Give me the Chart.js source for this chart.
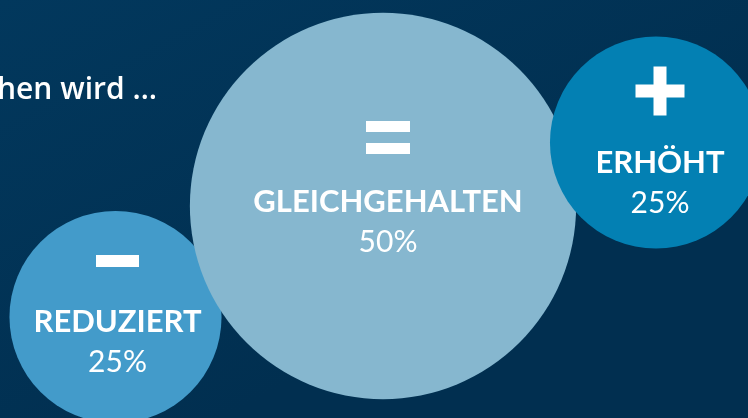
<!DOCTYPE html>
<html>
<head>
<meta charset="utf-8">
<script src="https://cdn.jsdelivr.net/npm/chart.js@4"></script>
<style>
  html, body { margin: 0; padding: 0; background: #01345a; }
  #wrap { width: 748px; height: 418px; position: relative; }
</style>
</head>
<body>
<div id="wrap"><canvas id="myChart"></canvas></div>
<script>
// data
const categories = ["REDUZIERT", "GLEICHGEHALTEN", "ERHÖHT"];
const shares = [25, 50, 25];
const signs = ["−", "=", "+"];
const titleText = "hen wird …";

// layout of the bubbles (axis units, 0..748 / 0..418)
const bubbleX = [115.5, 383, 656];
const bubbleY = [317, 206, 142.5];
const bubbleColors = ["#439bca", "#86b7cf", "#0380b3"];
// label offsets relative to the bubble centre
const labelDx = [2, 5, 4];
const nameDy = [15, 6, 30.5];
const symbolDy = [-71, -74.5, -82];

function radiusFor(share) {
  return 6.55 * Math.pow(share, 0.865);
}

const points = categories.map((c, i) => ({
  x: bubbleX[i],
  y: bubbleY[i],
  r: radiusFor(shares[i]),
}));

const backgroundPlugin = {
  id: "bg",
  beforeDraw(chart) {
    const { ctx, width, height } = chart;
    const g = ctx.createLinearGradient(0, 0, width * 0.3, height);
    g.addColorStop(0, "#02385d");
    g.addColorStop(1, "#012f50");
    ctx.save();
    ctx.fillStyle = g;
    ctx.fillRect(0, 0, width, height);
    ctx.fillStyle = "#ffffff";
    ctx.font = "600 30px 'Open Sans'";
    ctx.textAlign = "left";
    ctx.textBaseline = "alphabetic";
    ctx.fillText(titleText, -3, 99);
    ctx.restore();
  },
};

function drawSign(ctx, sign, x, y) {
  if (sign === "−") {
    ctx.fillRect(x - 21.5, y - 6, 43, 12);
  } else if (sign === "=") {
    ctx.fillRect(x - 22, y - 16.5, 44, 11);
    ctx.fillRect(x - 22, y + 5.5, 44, 11);
  } else if (sign === "+") {
    ctx.fillRect(x - 24.5, y - 6.5, 49, 13);
    ctx.fillRect(x - 6.5, y - 24.5, 13, 49);
  }
}

const labelPlugin = {
  id: "labels",
  afterDatasetsDraw(chart) {
    const ctx = chart.ctx;
    const meta = chart.getDatasetMeta(0);
    ctx.save();
    ctx.fillStyle = "#ffffff";
    ctx.textAlign = "center";
    ctx.textBaseline = "alphabetic";
    meta.data.forEach((el, i) => {
      const x = el.x + labelDx[i];
      const base = el.y + nameDy[i];
      drawSign(ctx, signs[i], x, base + symbolDy[i]);
      ctx.font = "bold 31px Lato";
      ctx.fillText(categories[i], x, base);
      ctx.font = "30px Lato";
      ctx.fillText(shares[i] + "%", x, base + 40);
    });
    ctx.restore();
  },
};

new Chart(document.getElementById("myChart"), {
  type: "bubble",
  data: {
    labels: categories,
    datasets: [
      {
        data: points,
        backgroundColor: bubbleColors,
        hoverBackgroundColor: bubbleColors,
        borderWidth: 0,
        hoverBorderWidth: 0,
        clip: false,
      },
    ],
  },
  options: {
    responsive: true,
    maintainAspectRatio: false,
    animation: false,
    events: [],
    layout: { padding: 0, autoPadding: false },
    plugins: {
      legend: { display: false },
      tooltip: { enabled: false },
    },
    scales: {
      x: { type: "linear", min: 0, max: 748, display: false },
      y: { type: "linear", min: 0, max: 418, reverse: true, display: false },
    },
  },
  plugins: [backgroundPlugin, labelPlugin],
});
</script>
</body>
</html>
